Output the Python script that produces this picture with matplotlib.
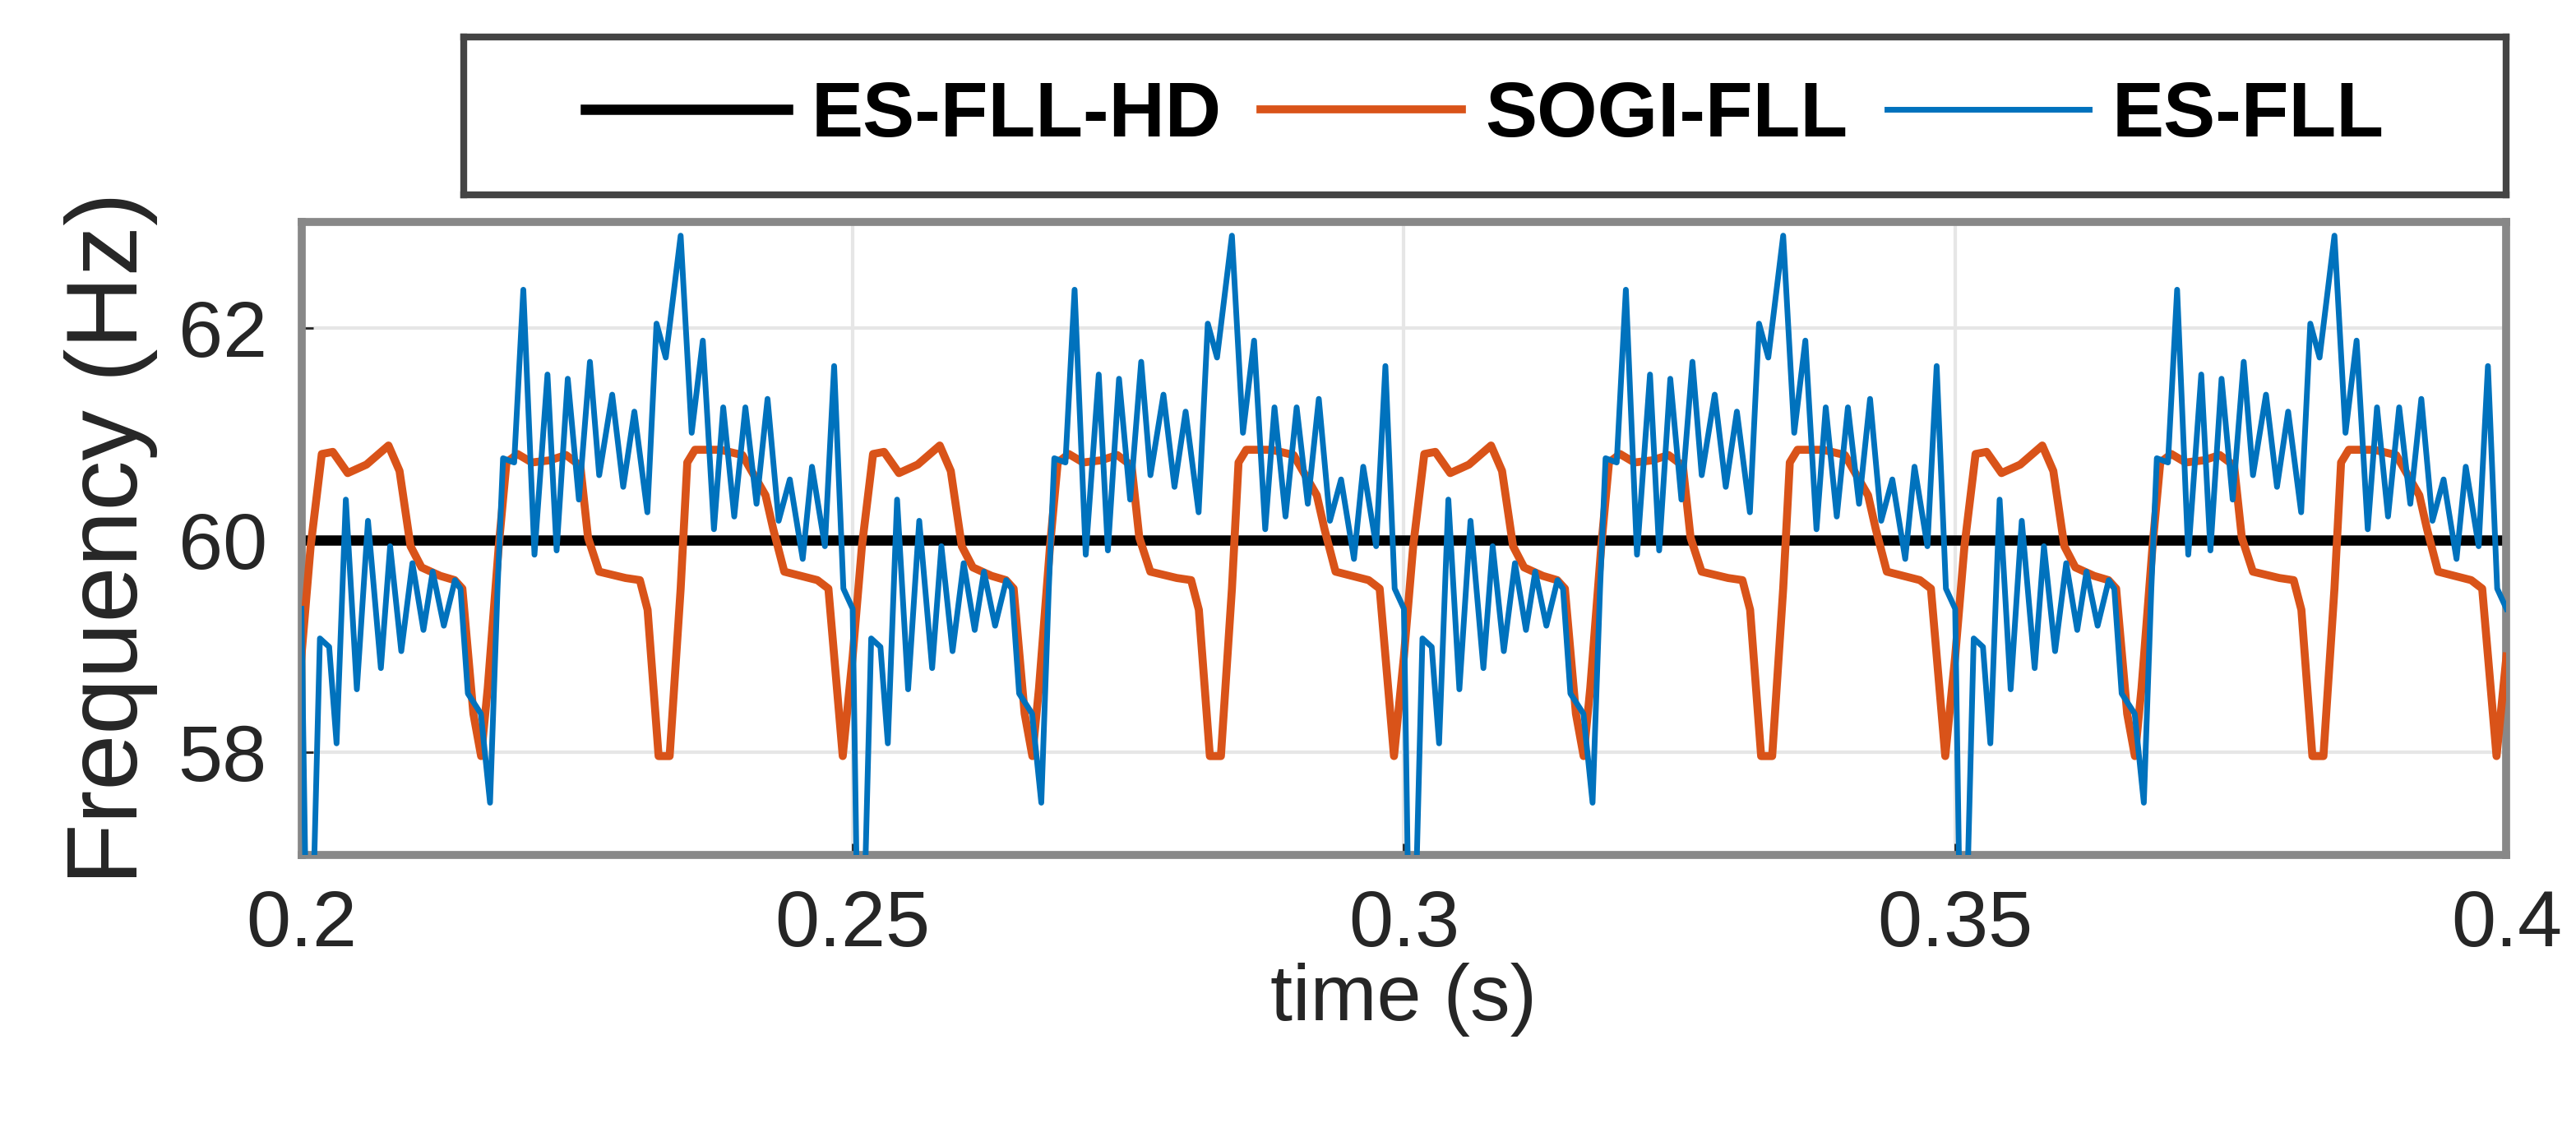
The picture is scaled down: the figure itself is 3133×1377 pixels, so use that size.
import numpy as np
import matplotlib
matplotlib.use("Agg")
import matplotlib.pyplot as plt

plt.rcParams['font.family'] = ['Liberation Sans', 'DejaVu Sans']

# one 50 ms period (ms offset, Hz); repeats over 0.2-0.4 s
period_ms = 50.0
sogi_ms = [0, 0.84, 1.85, 2.85, 4.2, 5.9, 7.9, 8.9, 9.9, 10.9, 12.6, 13.9, 14.6, 15.6, 16.3, 16.9,
           17.9, 18.6, 19.6, 20.9, 22.5, 24.0, 25.3, 26.0, 27.0, 29.4, 30.7, 31.4, 32.4, 33.4, 34.4,
           35.0, 35.7, 38.0, 40.0, 42.1, 42.8, 43.8, 46.8, 47.8, 49.1]
sogi_hz = [58.9, 59.94, 60.81, 60.83, 60.63, 60.71, 60.89, 60.65, 59.94, 59.74, 59.66, 59.62, 59.54,
           58.36, 57.96, 58.6, 59.94, 60.73, 60.81, 60.73, 60.75, 60.8, 60.7, 60.02, 59.7, 59.64, 59.62,
           59.34, 57.96, 57.96, 59.54, 60.73, 60.85, 60.85, 60.8, 60.42, 60.1, 59.7, 59.62, 59.54, 57.96]
es_ms = [0, 0.34, 1.17, 1.68, 2.52, 3.19, 4.03, 5.03, 6.04, 7.21, 8.05, 9.06, 10.07, 11.07, 11.91,
         12.92, 13.93, 14.43, 15.10, 16.28, 17.11, 17.79, 18.29, 19.30, 20.13, 21.14, 22.32, 23.15,
         24.16, 25.17, 26.17, 27.01, 28.19, 29.19, 30.20, 31.38, 32.21, 33.05, 34.40, 35.40, 36.41,
         37.42, 38.26, 39.26, 40.27, 41.28, 42.28, 43.29, 44.30, 45.47, 46.31, 47.48, 48.32, 49.16]
es_hz = [59.35, 57.0, 57.0, 59.07, 58.99, 58.08, 60.38, 58.59, 60.18, 58.79, 59.94, 58.95, 59.78,
         59.15, 59.70, 59.19, 59.62, 59.54, 58.55, 58.36, 57.52, 59.54, 60.77, 60.73, 62.36, 59.86,
         61.56, 59.90, 61.52, 60.38, 61.68, 60.61, 61.37, 60.50, 61.21, 60.26, 62.04, 61.72, 62.87,
         61.01, 61.88, 60.10, 61.25, 60.22, 61.25, 60.34, 61.33, 60.18, 60.57, 59.82, 60.69, 59.94,
         61.64, 59.54]
n_periods = 4
t_start = 0.2
hd_value = 60.0
xticks = [0.2, 0.25, 0.3, 0.35, 0.4]
xticklabels = ['0.2', '0.25', '0.3', '0.35', '0.4']
yticks = [58, 60, 62]

def tile(ms, hz):
    t = np.concatenate([t_start + (k * period_ms + np.array(ms)) / 1000 for k in range(n_periods)])
    v = np.tile(hz, n_periods)
    t = np.append(t, t_start + n_periods * period_ms / 1000)
    v = np.append(v, hz[0])
    return t, v

fig = plt.figure(figsize=(31.33, 13.77), dpi=100)
ax = fig.add_axes([0.117, 0.245, 0.856, 0.559])
ts, vs = tile(sogi_ms, sogi_hz)
te, ve = tile(es_ms, es_hz)
l1, = ax.plot([0.2, 0.4], [hd_value, hd_value], color='black', lw=9, zorder=2)
l2, = ax.plot(ts, vs, color='#D95319', lw=7, zorder=3)
l3, = ax.plot(te, ve, color='#0072BD', lw=5, zorder=4)
ax.set_xlim(0.2, 0.4)
ax.set_ylim(57.03, 63.0)
ax.set_xticks(xticks)
ax.set_xticklabels(xticklabels)
ax.set_yticks(yticks)
ax.grid(True, color='#e6e6e6', lw=3)
ax.set_axisbelow(True)
for s in ax.spines.values():
    s.set_color('#888888'); s.set_linewidth(7)
ax.tick_params(direction='in', length=10, width=2, labelsize=70, pad=30, colors='#262626')
ax.set_xlabel('time (s)', fontsize=70, color='#262626', labelpad=0)
ax.set_ylabel('Frequency (Hz)', fontsize=88, color='#262626', labelpad=18)

lax = fig.add_axes([0.18, 0.828, 0.793, 0.139])
lax.set_xticks([]); lax.set_yticks([])
for s in lax.spines.values():
    s.set_color('#444444'); s.set_linewidth(6)
lax.legend([l1, l2, l3], ['ES-FLL-HD', 'SOGI-FLL', 'ES-FLL'], loc='center', ncol=3,
           frameon=False, prop={'weight': 'bold', 'size': 68}, handlelength=2.6,
           columnspacing=0.5, handletextpad=0.3)
fig.savefig('out.png', dpi=100)
